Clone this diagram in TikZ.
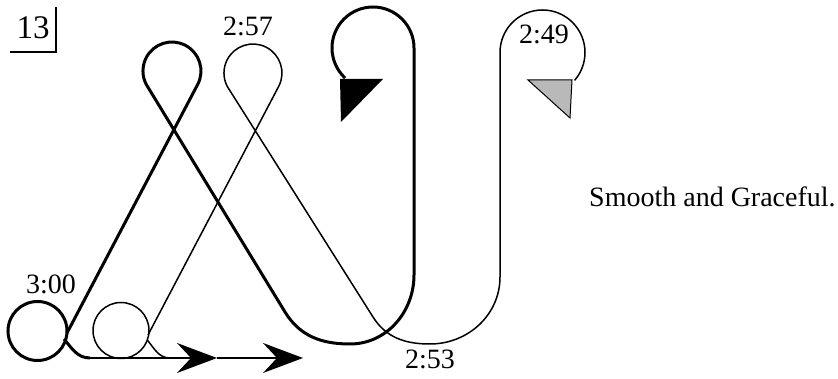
\documentclass[tikz,border=0pt]{standalone}
\usepackage{fontspec}
\setmainfont{Liberation Serif}
\usetikzlibrary{arrows.meta}
\tikzset{
    heavytrack/.style={line width=3pt},
    lighttrack/.style={line width=1.5pt},
    lbl/.style={font=\fontsize{28}{32}\selectfont, inner sep=0pt},
    runline/.style={line width=2pt, -{Stealth[length=40pt,width=30pt,inset=14pt]}}
}
\begin{document}
\begin{tikzpicture}[x=1pt,y=1pt]
    \useasboundingbox (0,0) rectangle (838,379);
    % figure number
    \node[lbl, font=\fontsize{33}{36}\selectfont] (num) at (33,351) {13};
    \draw[line width=1.5pt] (10,327) -- (56,327) -- (56,372);
    % start line
    \draw[runline] (90,21) -- (217,21);
    \draw[runline] (217,21) -- (303,21);
    % heavy track
    \draw[heavytrack] (37.5,48) circle (29.5);
    \draw[heavytrack] (90,21) to[out=180,in=-50] (64,40);
    \draw[heavytrack] (67,46) -- (197.8,294.8) arc[start angle=-27,end angle=207,radius=29]
        -- (285,67) to[out=-58.6,in=180] (350,35) to[out=0,in=-90] (414,104)
        -- (414,331) arc[start angle=0,end angle=227,radius=41];
    \fill (340,300) -- (383,300) -- (341,257) -- cycle;
    % light track
    \draw[lighttrack] (121,48.5) circle (28);
    \draw[lighttrack] (170,21) to[out=180,in=-50] (147.3,38.9);
    \draw[lighttrack] (148,44) -- (278.8,292.8) arc[start angle=-27,end angle=207,radius=29]
        -- (373,62) to[out=-57.7,in=180] (430,35) to[out=0,in=-90] (500,102)
        -- (500,326.5) arc[start angle=180,end angle=-41,radius=42.5];
    \filldraw[fill=gray!55, line width=1pt] (528,299) -- (572,299) -- (570,261) -- cycle;
    % times
    \node[lbl] (t300) at (51,95) {3:00};
    \node[lbl] (t257) at (248,353) {2:57};
    \node[lbl] (t253) at (430,20) {2:53};
    \node[lbl] (t249) at (544,345) {2:49};
    \node[lbl, anchor=west] (note) at (589,182) {Smooth and Graceful.};
\end{tikzpicture}
\end{document}
